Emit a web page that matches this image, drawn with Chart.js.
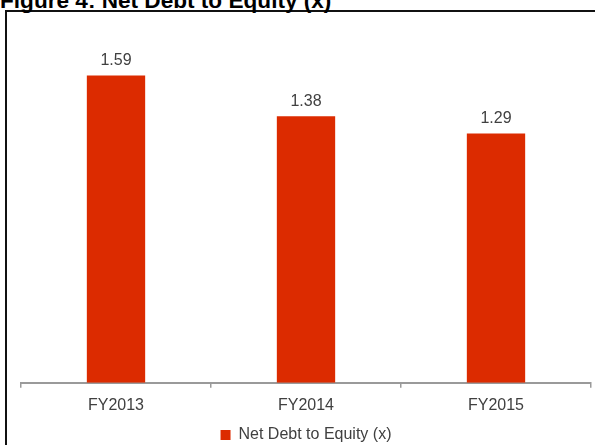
<!DOCTYPE html>
<html>
<head>
<meta charset="utf-8">
<script src="https://cdn.jsdelivr.net/npm/chart.js@4"></script>
<style>
  body { margin: 0; background: #fff; overflow: hidden; }
  #wrap { position: relative; width: 595px; height: 445px; overflow: hidden; }
  #frame { position: absolute; left: 5px; top: 10px; width: 620px; height: 470px;
           border-left: 2px solid #111; border-top: 2px solid #111; }
  #title { position: absolute; left: 0; top: -12px; line-height: 22px;
           font: bold 22.6px "Liberation Sans", Arial, sans-serif; color: #000; white-space: nowrap; }
  canvas { position: absolute; left: 0; top: 0; }
</style>
</head>
<body>
<div id="wrap">
  <div id="frame"></div>
  <div id="title">Figure 4: Net Debt to Equity (x)</div>
  <canvas id="chart" width="595" height="445"></canvas>
</div>
<script>
// chart data
const categories = ["FY2013", "FY2014", "FY2015"];
const netDebtToEquity = [1.59, 1.38, 1.29];
const seriesName = "Net Debt to Equity (x)";

const textColor = "#404040";
const fontFamily = '"Liberation Sans", Arial, sans-serif';

// draws the value above each bar
const valueLabels = {
  id: "valueLabels",
  afterDatasetsDraw(chart) {
    const ctx = chart.ctx;
    const meta = chart.getDatasetMeta(0);
    ctx.save();
    ctx.font = "16px " + fontFamily;
    ctx.fillStyle = textColor;
    ctx.textAlign = "center";
    ctx.textBaseline = "middle";
    meta.data.forEach((bar, i) => {
      ctx.fillText(netDebtToEquity[i].toFixed(2), bar.x, bar.y - 15);
    });
    ctx.restore();
  }
};

new Chart(document.getElementById("chart"), {
  type: "bar",
  data: {
    labels: categories,
    datasets: [{
      label: seriesName,
      data: netDebtToEquity,
      backgroundColor: "#dc2b00",
      borderWidth: 0,
      barPercentage: 0.307,
      categoryPercentage: 1
    }]
  },
  options: {
    responsive: false,
    animation: false,
    layout: { padding: { left: 21, right: 4, top: 35, bottom: -8 } },
    plugins: {
      tooltip: { enabled: false },
      legend: {
        position: "bottom",
        labels: {
          boxWidth: 10,
          boxHeight: 10,
          color: textColor,
          font: { size: 16, family: fontFamily },
          padding: 4
        }
      }
    },
    scales: {
      x: {
        grid: {
          display: true,
          drawOnChartArea: false,
          drawTicks: true,
          tickLength: 5,
          offset: true,
          color: "#9a9a9a",
          lineWidth: 1.5
        },
        border: { display: true, color: "#9a9a9a", width: 2 },
        ticks: {
          color: textColor,
          font: { size: 16, family: fontFamily },
          padding: 8
        }
      },
      y: {
        display: false,
        min: 0,
        max: 1.8
      }
    }
  },
  plugins: [valueLabels]
});
</script>
</body>
</html>
